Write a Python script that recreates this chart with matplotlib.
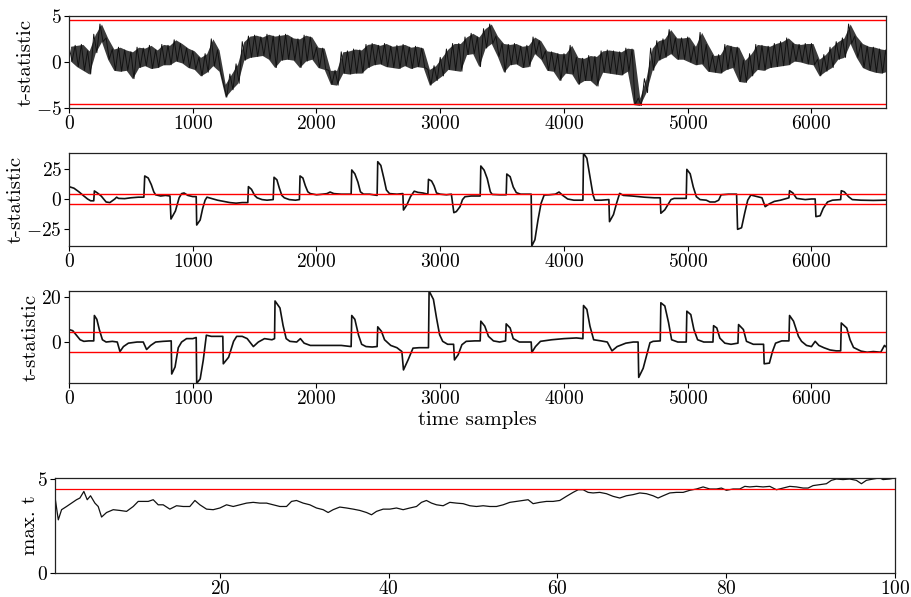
import numpy as np
import matplotlib
matplotlib.use("Agg")
import matplotlib.pyplot as plt

plt.rcParams.update({
    "font.family": "serif",
    "font.serif": ["cmr10"],
    "mathtext.fontset": "cm",
    "axes.formatter.use_mathtext": True,
    "axes.unicode_minus": True,
    "font.size": 14,
})

THRESHOLD = 4.5

# ---- Panel 1: noisy t-statistic, envelope per 50-sample bin ----
p1_bin_start = list(range(0, 6601, 50))
p1_high = [1.7, 1.8, 1.9, 1.2, 3.0, 4.1, 2.6, 1.4, 1.6, 1.3, 1.1, 1.6, 1.5, 1.8, 1.3, 1.9, 1.8, 2.4, 2.0, 1.5,
           1.2, 0.5, 0.9, 2.5, 1.3, -2.4, -1.3, -0.2, 2.2, 2.8, 2.9, 2.7, 3.0, 2.8, 2.9, 3.0, 2.6, 2.5, 2.9, 2.7,
           1.6, 1.5, -0.9, -0.9, 1.1, 1.2, 1.4, 1.3, 1.9, 2.0, 1.8, 2.0, 1.7, 1.8, 1.9, 1.6, 1.7, 1.5, -0.8, -0.4,
           0.5, 1.4, 2.0, 2.0, 2.7, 3.1, 2.7, 3.6, 4.1, 2.8, 2.0, 1.9, 2.0, 1.7, 1.8, 2.7, 2.3, 1.2, 1.1, 0.9,
           0.9, 1.8, 0.5, 0.4, 0.7, 0.6, 1.2, 1.3, 1.2, 1.1, 1.5, 1.4, -3.9, -1.8, 1.5, 2.3, 2.5, 3.5, 2.6, 2.6,
           2.7, 1.7, 3.2, 1.9, 0.7, 0.8, 1.9, 1.7, 1.6, 0.2, 0.9, 1.9, 1.8, 1.7, 2.0, 2.2, 2.6, 2.0, 1.9, 2.0,
           2.0, 0.3, 0.8, 1.6, 2.2, 2.6, 4.1, 2.8, 2.0, 1.7, 1.6, 1.4, 1.3]
p1_low = [0.1, -0.5, -0.9, -1.3, 1.0, 2.2, 0.3, -0.9, -1.0, -0.9, -1.8, -0.6, -0.4, -0.7, -0.6, -0.3, -0.3, 0.1, -0.1, -0.6,
          -0.8, -1.5, -1.1, -0.4, -1.0, -3.8, -3.0, -2.3, 0.2, 0.5, 0.6, 0.7, 0.3, -0.6, 0.2, 0.3, 0.2, -0.6, 0.1, 0.3,
          -0.6, -0.8, -2.4, -2.5, -1.2, -1.3, -1.2, -1.2, -0.6, -0.3, -0.2, -0.5, -0.6, -0.7, -0.4, -0.7, -0.5, -0.6, -2.5, -2.0,
          -1.5, -0.8, -0.9, -1.0, 0.8, 0.9, -0.5, 1.5, 2.0, 0.6, -1.1, -0.3, -0.2, -0.6, -0.5, 0.9, 0.3, -0.9, -1.0, -2.0,
          -1.2, -1.3, -2.4, -2.0, -2.0, -2.6, -1.1, -1.2, -1.3, -1.4, -1.0, -4.6, -4.7, -3.3, -0.9, 0.2, 0.5, 0.9, 0.3, 0.3,
          0.0, -0.3, -0.2, -1.0, -1.1, -1.2, -0.8, -0.6, -2.1, -2.2, -1.5, -0.8, -0.9, -0.6, -0.5, -0.4, -0.3, 0.1, 0.0, -0.2,
          -0.3, -1.5, -1.0, -0.6, 0.3, 0.5, 2.0, 0.5, -0.6, -0.9, -1.1, -1.2, -1.0]

# ---- Panel 2 ----
p2_x = [0, 40, 80, 120, 150, 175, 200, 205, 230, 260, 300, 330, 370, 385, 400, 450, 500, 560, 605, 612,
        640, 665, 685, 700, 740, 780, 816, 824, 860, 890, 910, 930, 960, 1000, 1028, 1032, 1060, 1080, 1100, 1115,
        1150, 1200, 1250, 1300, 1350, 1400, 1445, 1450, 1475, 1500, 1520, 1560, 1600, 1650, 1657, 1680, 1700, 1720, 1740, 1780,
        1830, 1862, 1867, 1890, 1910, 1930, 1950, 2000, 2050, 2085, 2110, 2140, 2200, 2280, 2285, 2310, 2335, 2355, 2380, 2430,
        2490, 2495, 2520, 2545, 2565, 2590, 2650, 2698, 2703, 2730, 2760, 2790, 2820, 2860, 2900, 2905, 2930, 2950, 2970, 3000,
        3050, 3090, 3110, 3130, 3160, 3180, 3200, 3250, 3323, 3328, 3355, 3380, 3405, 3420, 3480, 3533, 3538, 3565, 3590, 3615,
        3650, 3700, 3735, 3740, 3765, 3790, 3815, 3840, 3880, 3930, 3960, 3990, 4030, 4080, 4153, 4158, 4185, 4210, 4235, 4250,
        4300, 4363, 4368, 4400, 4425, 4450, 4480, 4550, 4650, 4730, 4778, 4783, 4815, 4840, 4865, 4890, 4950, 4988, 4993, 5020,
        5045, 5070, 5100, 5150, 5180, 5220, 5250, 5270, 5330, 5395, 5403, 5435, 5460, 5485, 5510, 5560, 5600, 5626, 5660, 5700,
        5750, 5800, 5818, 5823, 5850, 5880, 5950, 6000, 6030, 6036, 6070, 6095, 6130, 6170, 6236, 6241, 6265, 6300, 6330, 6400,
        6500, 6600]
p2_y = [10.3, 9.0, 6.0, 2.5, 0.0, -1.5, -1.5, 6.7, 5.0, 2.5, -2.5, -3.0, 0.0, 1.5, 0.5, 0.3, 1.0, 1.5, 1.5, 19.2,
        17.5, 12.0, 6.0, 3.5, 2.5, 3.0, 2.5, -16.7, -10.0, 1.0, 4.5, 5.0, 3.0, 2.0, 2.0, -21.7, -17.5, -8.0, -1.0, 1.5,
        0.5, -1.0, -2.0, -3.0, -3.5, -3.0, -3.0, 10.3, 8.0, 3.0, 1.0, -0.5, -1.0, -0.5, 18.1, 16.0, 9.0, 3.0, 1.0, -0.5,
        -1.0, -0.5, 19.2, 17.5, 11.0, 6.0, 4.5, 3.5, 4.0, 4.5, 5.8, 4.5, 4.0, 4.0, 24.2, 21.0, 14.0, 6.0, 4.0, 4.0,
        3.0, 31.1, 28.0, 17.0, 7.5, 4.5, 4.0, 4.5, -9.2, -5.0, 2.0, 6.5, 5.5, 5.0, 4.0, 16.4, 15.0, 11.0, 5.0, 4.0,
        3.5, 4.0, -11.4, -10.5, -6.4, -0.5, 1.9, 2.5, 2.5, 27.5, 24.0, 17.0, 6.0, 3.8, 3.5, 3.5, 20.8, 18.6, 10.0, 5.3,
        4.0, 4.0, 4.0, -39.2, -34.0, -17.5, -3.6, 3.3, 3.5, 4.0, 5.8, 3.0, 0.0, -1.0, -1.0, 38.1, 34.0, 18.6, 3.3, -1.0,
        -1.0, -0.5, -18.9, -13.0, -3.6, 4.7, 3.0, 2.5, 1.5, 1.0, 1.0, -11.9, -9.0, -4.7, -0.5, 0.5, 0.5, 0.5, 24.7, 21.0,
        10.0, 1.9, -0.5, -1.0, -2.5, -2.5, -1.0, 3.5, 4.0, 4.0, -25.3, -24.0, -12.0, -1.0, 3.3, 2.0, 1.0, -6.4, -4.0, -2.0,
        -1.0, 0.5, 1.0, 6.9, 5.0, 0.5, -0.5, 0.0, 0.0, -14.7, -14.0, -7.8, -2.5, -1.0, -0.5, 6.9, 6.0, 1.9, -0.5, -1.0,
        -1.2, -1.0]

# ---- Panel 3 ----
p3_x = [0, 30, 60, 90, 120, 160, 200, 205, 225, 245, 270, 300, 350, 390, 412, 440, 480, 550, 600, 627,
        660, 700, 760, 826, 830, 857, 883, 910, 950, 1000, 1028, 1032, 1060, 1085, 1110, 1150, 1200, 1243, 1247, 1290,
        1330, 1355, 1400, 1440, 1490, 1530, 1580, 1640, 1661, 1665, 1705, 1730, 1755, 1785, 1840, 1870, 1900, 1950, 2000, 2100,
        2200, 2280, 2285, 2310, 2340, 2365, 2400, 2450, 2490, 2495, 2525, 2550, 2600, 2650, 2690, 2703, 2740, 2780, 2830, 2880,
        2905, 2910, 2945, 2970, 2995, 3020, 3060, 3108, 3115, 3145, 3175, 3210, 3280, 3323, 3328, 3360, 3390, 3430, 3480, 3528,
        3533, 3565, 3590, 3640, 3700, 3735, 3740, 3770, 3810, 3900, 4000, 4100, 4153, 4158, 4185, 4210, 4240, 4300, 4350, 4388,
        4430, 4500, 4560, 4599, 4604, 4640, 4665, 4695, 4720, 4778, 4783, 4815, 4845, 4870, 4920, 4988, 4993, 5025, 5050, 5080,
        5130, 5204, 5209, 5235, 5260, 5300, 5350, 5406, 5411, 5450, 5475, 5530, 5613, 5618, 5660, 5685, 5710, 5760, 5818, 5823,
        5855, 5895, 5920, 5960, 6000, 6030, 6060, 6100, 6150, 6200, 6236, 6241, 6285, 6312, 6340, 6400, 6450, 6500, 6560, 6590,
        6600]
p3_y = [5.5, 5.0, 3.0, 1.0, 0.3, 0.5, 0.5, 11.7, 10.0, 5.5, 1.0, 0.0, 0.3, 0.0, -4.2, -2.0, -0.5, 0.0, 0.0, -3.3,
        -1.5, 0.0, 0.3, 0.5, -14.1, -11.0, -2.5, 0.0, 1.5, 1.5, 2.0, -18.2, -16.3, -8.0, 3.0, 2.5, 2.5, 2.5, -9.6, -6.7,
        0.3, 2.5, 2.5, 1.5, -2.0, 0.0, 1.5, 1.0, 1.5, 18.1, 15.0, 7.3, 1.5, 0.3, 0.0, 1.5, -0.5, -1.5, -1.5, -1.5,
        -1.5, -2.0, 11.7, 10.0, 3.0, -1.0, -2.0, -2.2, -2.0, 6.7, 4.7, 1.0, -1.5, -2.5, -4.2, -12.3, -7.9, -2.7, -2.5, -2.5,
        -2.5, 22.5, 18.8, 10.6, 3.2, 0.3, -1.0, -1.0, -7.9, -5.6, -1.2, 0.3, 0.5, 0.5, 9.2, 7.0, 2.5, 0.5, 0.0, 0.5,
        8.0, 6.2, 1.5, 0.0, 0.0, 0.0, -4.6, -2.0, 0.3, 1.0, 1.5, 1.8, 1.5, 16.1, 14.4, 7.0, 1.0, 0.5, 0.0, -3.9,
        -2.0, -0.5, 0.0, 0.0, -15.6, -11.6, -6.4, -0.3, 0.3, 0.5, 17.3, 15.9, 8.6, 1.0, 0.0, 0.0, 13.6, 12.1, 5.5, 1.0,
        0.0, 0.0, 7.2, 6.2, 1.7, -0.5, -1.0, -0.5, 7.7, 5.5, 0.3, -1.0, -1.0, -9.6, -9.3, -4.2, -0.5, 0.5, 0.5, 11.7,
        9.2, 2.5, 0.3, -1.5, -2.0, 0.3, -1.5, -2.5, -3.5, -3.9, -3.9, 8.4, 6.2, 1.0, -2.4, -4.0, -4.5, -4.2, -4.5, -1.5,
        -2.0]

# ---- Panel 4: max t vs number of traces ----
p4_x = [0.45, 0.84, 1.23, 1.82, 2.41, 3.0, 3.4, 3.87, 4.27, 4.66, 5.18, 5.57, 5.97, 6.56, 7.35, 8.14, 8.93, 9.72, 10.31, 10.91,
        11.5, 12.09, 12.68, 13.27, 14.06, 14.85, 15.64, 16.43, 17.03, 17.62, 18.41, 19.2, 19.99, 20.78, 21.57, 22.36, 23.15, 23.94, 24.73, 25.52,
        26.31, 27.1, 27.89, 28.48, 29.07, 29.86, 30.65, 31.44, 32.23, 32.82, 33.41, 34.2, 35.0, 35.79, 36.58, 37.37, 37.96, 38.55, 39.34, 40.13,
        40.92, 41.71, 42.5, 43.29, 43.88, 44.47, 45.07, 45.66, 46.45, 47.24, 48.03, 48.82, 49.61, 50.4, 51.19, 51.98, 52.77, 53.56, 54.35, 55.14,
        55.93, 56.52, 57.11, 57.9, 58.69, 59.48, 60.27, 61.06, 61.85, 62.45, 63.04, 63.63, 64.22, 65.01, 65.8, 66.59, 67.38, 68.17, 68.96, 69.75,
        70.54, 71.33, 71.92, 72.52, 73.31, 74.1, 74.89, 75.68, 76.47, 77.26, 78.05, 78.84, 79.43, 80.02, 80.81, 81.6, 82.2, 82.79, 83.58, 84.37,
        85.16, 85.95, 86.74, 87.53, 88.32, 89.11, 89.7, 90.29, 91.08, 91.87, 92.46, 93.05, 93.84, 94.63, 95.42, 96.02, 96.61, 97.4, 98.19, 98.58,
        99.37, 100.0]
p4_y = [4.05, 2.84, 3.38, 3.55, 3.73, 3.91, 4.0, 4.35, 3.91, 4.12, 3.73, 3.55, 2.99, 3.23, 3.38, 3.34, 3.29, 3.55, 3.82, 3.82,
        3.82, 3.91, 3.64, 3.64, 3.41, 3.59, 3.55, 3.55, 3.87, 3.64, 3.41, 3.38, 3.47, 3.64, 3.55, 3.64, 3.73, 3.77, 3.73, 3.73,
        3.64, 3.55, 3.55, 3.82, 3.87, 3.73, 3.64, 3.47, 3.38, 3.23, 3.38, 3.52, 3.47, 3.41, 3.34, 3.23, 3.11, 3.29, 3.41, 3.41,
        3.47, 3.38, 3.47, 3.55, 3.77, 3.87, 3.73, 3.64, 3.59, 3.77, 3.73, 3.70, 3.59, 3.55, 3.59, 3.55, 3.55, 3.64, 3.77, 3.82,
        3.87, 3.91, 3.70, 3.77, 3.82, 3.82, 3.87, 4.09, 4.30, 4.44, 4.44, 4.30, 4.27, 4.30, 4.23, 4.09, 4.0, 4.12, 4.18, 4.27,
        4.23, 4.12, 4.0, 4.12, 4.27, 4.30, 4.30, 4.41, 4.48, 4.59, 4.48, 4.48, 4.53, 4.41, 4.48, 4.48, 4.62, 4.59, 4.62, 4.59,
        4.62, 4.44, 4.53, 4.62, 4.59, 4.53, 4.53, 4.66, 4.71, 4.76, 4.94, 5.01, 4.98, 5.01, 4.94, 4.76, 4.94, 5.01, 5.07, 4.98,
        5.01, 5.07]

W, H = 912, 597
fig = plt.figure(figsize=(W / 100, H / 100), dpi=100)


def frac(left, top, right, bottom):
    return [left / W, 1 - bottom / H, (right - left) / W, (bottom - top) / H]


ax1 = fig.add_axes(frac(69, 15.7, 885.7, 108.3))
ax2 = fig.add_axes(frac(69, 153.3, 885.7, 246))
ax3 = fig.add_axes(frac(69, 291, 885.7, 383.3))
ax4 = fig.add_axes(frac(55, 477.7, 895, 573.3))

line_kw = dict(color="#111111")
red_kw = dict(color="red", lw=1.0)

# panel 1: dense band between the bin envelopes plus a zig-zag through them
bs = np.array(p1_bin_start, dtype=float)
hi = np.array(p1_high)
lo = np.array(p1_low)
zx = np.empty(2 * len(bs))
zy = np.empty(2 * len(bs))
zx[0::2] = bs
zx[1::2] = bs + 25
zy[0::2] = hi
zy[1::2] = lo
ax1.fill_between(bs + 12.5, lo, hi, color="#1a1a1a", alpha=0.85, lw=0)
ax1.plot(zx, zy, lw=0.7, **line_kw)
ax1.axhline(THRESHOLD, **red_kw)
ax1.axhline(-THRESHOLD, **red_kw)
ax1.set_xlim(0, 6600)
ax1.set_ylim(-5, 5)
ax1.set_yticks([-5, 0, 5])
ax1.set_ylabel("t-statistic")

ax2.plot(p2_x, p2_y, lw=1.2, **line_kw)
ax2.axhline(THRESHOLD, **red_kw)
ax2.axhline(-THRESHOLD, **red_kw)
ax2.set_xlim(0, 6600)
ax2.set_ylim(min(p2_y), max(p2_y))
ax2.set_yticks([-25, 0, 25])
ax2.set_ylabel("t-statistic")

ax3.plot(p3_x, p3_y, lw=1.2, **line_kw)
ax3.axhline(THRESHOLD, **red_kw)
ax3.axhline(-THRESHOLD, **red_kw)
ax3.set_xlim(0, 6600)
ax3.set_ylim(min(p3_y), max(p3_y))
ax3.set_yticks([0, 20])
ax3.set_ylabel("t-statistic")
ax3.set_xlabel("time samples", labelpad=2)

for ax in (ax1, ax2, ax3):
    ax.set_xticks([0, 1000, 2000, 3000, 4000, 5000, 6000])

ax4.plot(p4_x, p4_y, lw=0.9, **line_kw)
ax4.axhline(THRESHOLD, color="red", lw=0.9)
ax4.set_xlim(p4_x[0], 100)
ax4.set_ylim(0, 5.08)
ax4.set_yticks([0, 5])
ax4.set_xticks([20, 40, 60, 80, 100])
ax4.set_ylabel("max. t")

for ax in (ax1, ax2, ax3, ax4):
    ax.tick_params(direction="out", length=3.5, width=0.8, labelsize=14, pad=1.5)
    for s in ax.spines.values():
        s.set_linewidth(0.9)
        s.set_color("#222222")
    ax.yaxis.label.set_size(15)
    ax.yaxis.labelpad = 1.0
ax4.yaxis.labelpad = -1.5
ax3.xaxis.label.set_size(15)

fig.savefig("out.png", dpi=100)
